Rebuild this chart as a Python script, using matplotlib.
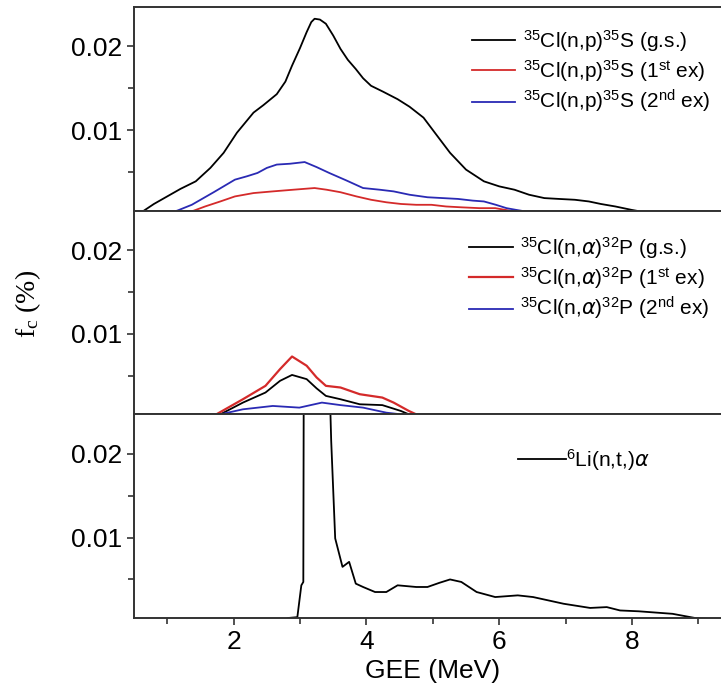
import matplotlib
matplotlib.use("Agg")
import matplotlib.pyplot as plt
from matplotlib.ticker import MultipleLocator

plt.rcParams['font.family'] = ['Liberation Sans', 'DejaVu Sans']
plt.rcParams['mathtext.fontset'] = 'dejavusans'

# --- top panel: 35Cl(n,p)35S
np_gs_x = [0.63, 0.8, 1.0, 1.2, 1.43, 1.65, 1.85, 2.05, 2.3, 2.45, 2.65, 2.78, 2.88, 3.0,
           3.1, 3.17, 3.22, 3.3, 3.39, 3.5, 3.61, 3.72, 3.84, 3.95, 4.07, 4.25, 4.47, 4.65,
           4.86, 5.05, 5.26, 5.5, 5.77, 6.0, 6.23, 6.45, 6.68, 6.9, 7.14, 7.35, 7.53, 7.75,
           7.99, 8.27, 8.6]
np_gs_y = [0.0003, 0.0012, 0.0021, 0.003, 0.0039, 0.0055, 0.0073, 0.0097, 0.0121, 0.013,
           0.0143, 0.0158, 0.0177, 0.0198, 0.0217, 0.0229, 0.0233, 0.0232, 0.0227, 0.0213,
           0.0197, 0.0184, 0.0173, 0.0162, 0.0153, 0.0146, 0.0137, 0.0128, 0.0115, 0.0095,
           0.0073, 0.0053, 0.0039, 0.0033, 0.0029, 0.0023, 0.0019, 0.0018, 0.0017, 0.0015,
           0.0012, 0.0009, 0.0005, 0.0001, 0.0]
np_1st_x = [1.17, 1.4, 1.57, 1.8, 2.02, 2.3, 2.59, 2.9, 3.22, 3.4, 3.61, 3.85, 4.07, 4.3,
            4.52, 4.75, 4.98, 5.2, 5.43, 5.7, 5.94, 6.23, 6.45]
np_1st_y = [0.0, 0.0004, 0.0009, 0.0015, 0.0021, 0.0025, 0.0027, 0.0029, 0.0031, 0.0029,
            0.0026, 0.0021, 0.0017, 0.0014, 0.0012, 0.0011, 0.0011, 0.0009, 0.0008, 0.0007,
            0.0007, 0.0003, 0.0001]
np_2nd_x = [0.94, 1.15, 1.37, 1.7, 2.02, 2.2, 2.36, 2.5, 2.65, 2.85, 3.07, 3.25, 3.44, 3.7,
            3.95, 4.2, 4.41, 4.65, 4.92, 5.15, 5.38, 5.6, 5.77, 5.95, 6.11, 6.25, 6.4, 6.68,
            7.25, 7.7]
np_2nd_y = [0.0, 0.0004, 0.0011, 0.0026, 0.0041, 0.0045, 0.0049, 0.0055, 0.0059, 0.006,
            0.0062, 0.0056, 0.0049, 0.004, 0.0031, 0.0029, 0.0027, 0.0023, 0.002, 0.0019,
            0.0018, 0.0016, 0.0015, 0.0011, 0.0007, 0.0005, 0.0003, 0.0002, 0.0002, 0.0001]

# --- middle panel: 35Cl(n,a)32P
na_gs_x = [1.8, 2.14, 2.48, 2.7, 2.88, 3.1, 3.25, 3.39, 3.61, 3.9, 4.24, 4.52, 4.64, 5.0]
na_gs_y = [0.0004, 0.0018, 0.003, 0.0044, 0.0051, 0.0046, 0.0035, 0.0026, 0.0022, 0.0016,
           0.0015, 0.0008, 0.0004, 0.0]
na_1st_x = [1.74, 2.14, 2.48, 2.7, 2.88, 3.1, 3.25, 3.39, 3.61, 3.9, 4.24, 4.41, 4.64,
            4.75, 5.0]
na_1st_y = [0.0004, 0.0022, 0.0038, 0.0058, 0.0073, 0.0062, 0.0048, 0.0038, 0.0036,
            0.0028, 0.0024, 0.0018, 0.0008, 0.0004, 0.0]
na_2nd_x = [1.8, 2.14, 2.59, 2.99, 3.33, 3.61, 3.95, 4.3, 4.52, 4.8]
na_2nd_y = [0.0004, 0.001, 0.0014, 0.0012, 0.0018, 0.0015, 0.0012, 0.0006, 0.0004, 0.0]

# --- bottom panel: 6Li(n,t)a
li_x = [2.75, 2.82, 2.96, 3.02, 3.05, 3.07, 3.42, 3.44, 3.47, 3.53, 3.64, 3.74, 3.84, 3.95,
        4.13, 4.3, 4.47, 4.75, 4.92, 5.1, 5.26, 5.43, 5.66, 5.94, 6.28, 6.51, 6.97, 7.37,
        7.62, 7.82, 8.1, 8.61, 8.95, 9.3, 9.5]
li_y = [0.0, 0.0004, 0.0005, 0.0043, 0.0047, 0.08, 0.08, 0.03, 0.0215, 0.0099, 0.0065,
        0.0071, 0.0045, 0.0041, 0.0035, 0.0035, 0.0043, 0.0041, 0.0041, 0.0046, 0.005,
        0.0047, 0.0035, 0.0029, 0.0031, 0.0029, 0.0021, 0.0016, 0.0017, 0.0013, 0.0012,
        0.0009, 0.0004, 0.0002, 0.0001]

red = '#d42a2a'
blue = '#2a2ab4'

fig = plt.figure(figsize=(7.21, 6.93), dpi=100)
left = 134 / 721
width = 9 * 66.4 / 721
bot = 1 - 618 / 693
h = (618 - 7) / 3 / 693

axes = []
for i in range(3):
    ax = fig.add_axes([left, bot + (2 - i) * h, width, h])
    axes.append(ax)

sup = lambda s: r'$\mathregular{^{%s}}$' % s

ax = axes[0]
ax.plot(np_gs_x, np_gs_y, color='black', lw=1.3,
        label=sup('35') + 'Cl(n,p)' + sup('35') + 'S (g.s.)')
ax.plot(np_1st_x, np_1st_y, color=red, lw=1.3,
        label=sup('35') + 'Cl(n,p)' + sup('35') + 'S (1' + sup('st') + ' ex)')
ax.plot(np_2nd_x, np_2nd_y, color=blue, lw=1.3,
        label=sup('35') + 'Cl(n,p)' + sup('35') + 'S (2' + sup('nd') + ' ex)')

ax = axes[1]
ax.plot(na_gs_x, na_gs_y, color='black', lw=1.3,
        label=sup('35') + r'Cl(n,$\alpha$)' + sup('32') + 'P (g.s.)')
ax.plot(na_1st_x, na_1st_y, color=red, lw=1.6,
        label=sup('35') + r'Cl(n,$\alpha$)' + sup('32') + 'P (1' + sup('st') + ' ex)')
ax.plot(na_2nd_x, na_2nd_y, color=blue, lw=1.3,
        label=sup('35') + r'Cl(n,$\alpha$)' + sup('32') + 'P (2' + sup('nd') + ' ex)')

ax = axes[2]
ax.plot(li_x, li_y, color='black', lw=1.3, label=sup('6') + r'Li(n,t,)$\alpha$')

for i, ax in enumerate(axes):
    ax.set_xlim(0.5, 9.5)
    ax.set_ylim(0.0004, 0.0247)
    ax.xaxis.set_major_locator(MultipleLocator(2))
    ax.xaxis.set_minor_locator(MultipleLocator(1))
    ax.yaxis.set_major_locator(MultipleLocator(0.01))
    ax.yaxis.set_minor_locator(MultipleLocator(0.005))
    ax.tick_params(which='both', direction='out', labelsize=19, color='#333333', width=1.2)
    ax.tick_params(which='major', length=5)
    ax.tick_params(which='minor', length=4)
    ax.yaxis.set_major_formatter(plt.FuncFormatter(lambda v, p: '%.2f' % v))
    ax.spines['right'].set_visible(False)
    for s in ['left', 'top', 'bottom']:
        ax.spines[s].set_linewidth(1.4)
        ax.spines[s].set_color('#333333')
    if i < 2:
        ax.tick_params(axis='x', which='both', labelbottom=False)

axes[2].set_xlabel('GEE (MeV)', fontsize=19, labelpad=4)
fig.text(0.039, 1 - 304 / 693, r'$\mathregular{f_c}$ (%)', rotation=90, va='center',
         ha='center', fontsize=20, family='Liberation Serif')

leg_kw = dict(frameon=False, fontsize=15, handlelength=2.1, handletextpad=0.35,
              labelspacing=0.2, borderpad=0, borderaxespad=0, loc='upper right')
axes[0].legend(bbox_to_anchor=(710 / 721, 1 - 28 / 693), bbox_transform=fig.transFigure,
               **leg_kw)
axes[1].legend(bbox_to_anchor=(710 / 721, 1 - 235 / 693), bbox_transform=fig.transFigure,
               **leg_kw)
leg_kw['handletextpad'] = 0.0
leg_kw['handlelength'] = 2.3
axes[2].legend(bbox_to_anchor=(649 / 721, 1 - 447 / 693), bbox_transform=fig.transFigure,
               **leg_kw)

fig.savefig('out.png', dpi=100)
